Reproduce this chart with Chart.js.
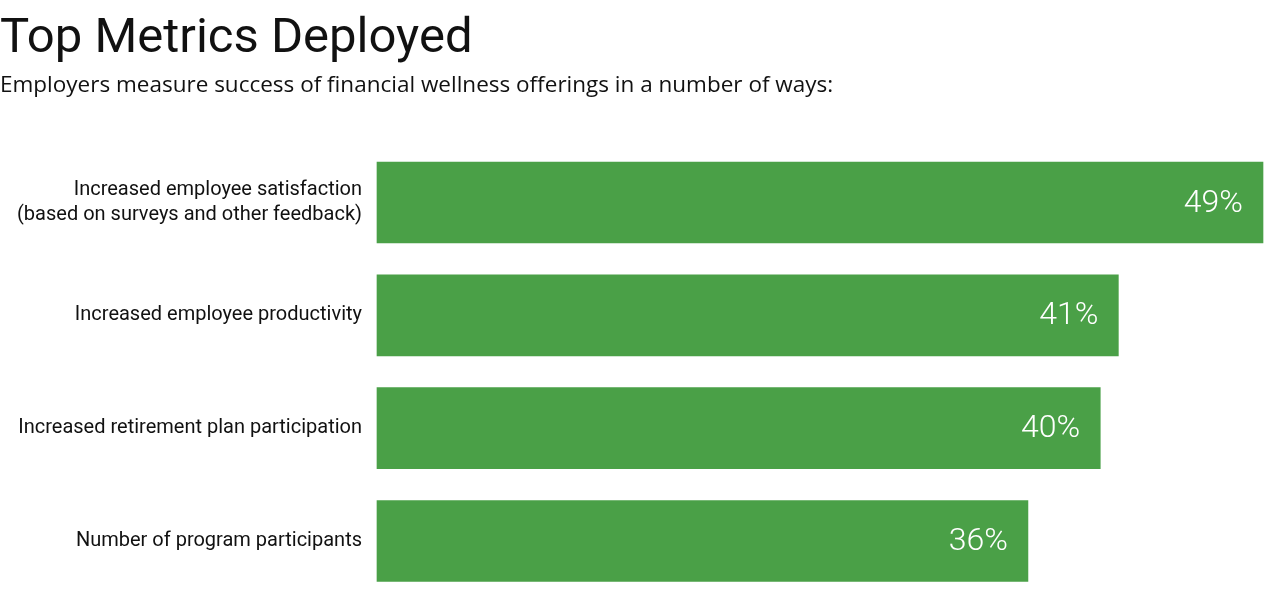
<!DOCTYPE html>
<html>
<head>
<meta charset="utf-8">
<script src="https://cdn.jsdelivr.net/npm/chart.js@4"></script>
<style>
  html, body { margin: 0; padding: 0; background: #fff; overflow: hidden; }
  #wrap { position: relative; width: 1277px; height: 590px; }
</style>
</head>
<body>
<div id="wrap"><canvas id="myChart"></canvas></div>
<script>
const categories = [
  ['Increased employee satisfaction', '(based on surveys and other feedback)'],
  'Increased employee productivity',
  'Increased retirement plan participation',
  'Number of program participants'
];
const values = [49, 41, 40, 36];
const valueLabels = ['49%', '41%', '40%', '36%'];

const barGreen = '#4aa047';

// white % labels inside the bar ends
const barLabels = {
  id: 'barLabels',
  afterDatasetsDraw(chart) {
    const ctx = chart.ctx;
    const meta = chart.getDatasetMeta(0);
    ctx.save();
    ctx.fillStyle = '#ffffff';
    ctx.font = '300 32px Roboto';
    ctx.textAlign = 'right';
    ctx.textBaseline = 'middle';
    meta.data.forEach(function (bar, i) {
      ctx.fillText(valueLabels[i], bar.x - 20, bar.y + 1);
    });
    ctx.restore();
  }
};

const ctx = document.getElementById('myChart').getContext('2d');
const chart = new Chart(ctx, {
  type: 'bar',
  data: {
    labels: categories,
    datasets: [{
      data: values,
      backgroundColor: barGreen,
      borderWidth: 0,
      barThickness: 81,
      clip: false
    }]
  },
  options: {
    indexAxis: 'y',
    responsive: true,
    maintainAspectRatio: false,
    animation: false,
    layout: { padding: { left: 0, right: 14, top: 0, bottom: 49 } },
    plugins: {
      legend: { display: false },
      tooltip: { enabled: false },
      title: {
        display: true,
        text: 'Top Metrics Deployed',
        align: 'start',
        color: '#111',
        font: { family: 'Roboto', size: 49, weight: 'normal', lineHeight: 1 },
        padding: { top: 15, bottom: 0 }
      },
      subtitle: {
        display: true,
        text: 'Employers measure success of financial wellness offerings in a number of ways:',
        align: 'start',
        color: '#111',
        font: { family: 'Open Sans', size: 22.5, weight: 'normal', lineHeight: 1 },
        padding: { top: 10, bottom: 106 }
      }
    },
    scales: {
      x: {
        display: false,
        min: 0,
        max: 49
      },
      y: {
        offset: false,
        grid: { display: false },
        border: { display: false },
        ticks: {
          color: '#111',
          padding: 7,
          font: { family: 'Roboto', size: 20, lineHeight: 1.25 }
        },
        afterFit(scale) {
          scale.width = 377;
        }
      }
    }
  },
  plugins: [barLabels]
});
</script>
</body>
</html>
